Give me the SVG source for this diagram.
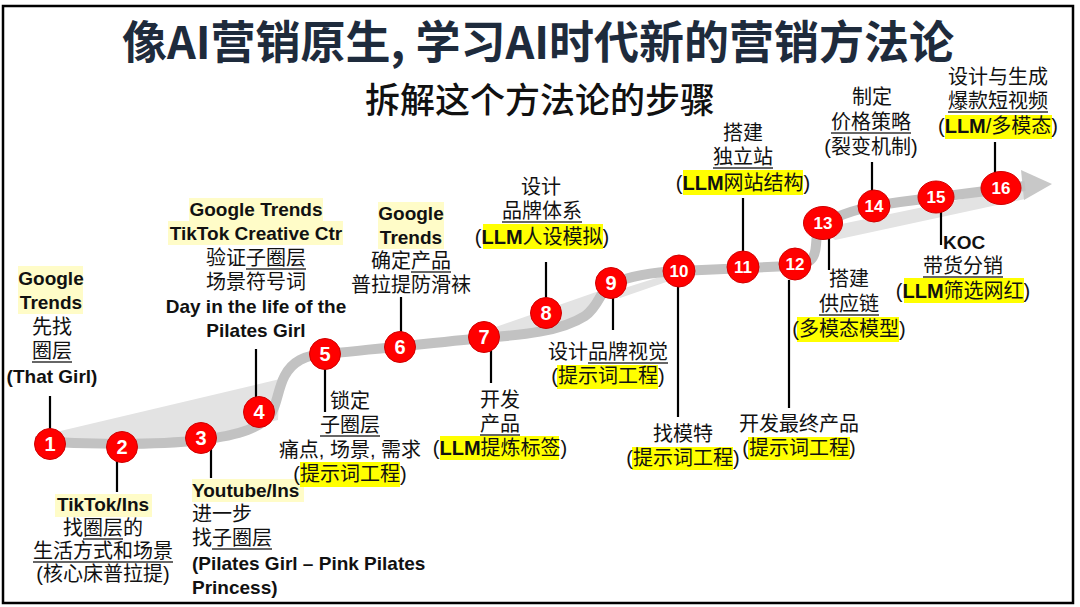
<svg xmlns="http://www.w3.org/2000/svg" width="1080" height="607" viewBox="0 0 1080 607">
<style>
text{font-family:"Liberation Sans","Noto Sans CJK SC",sans-serif;fill:#111;}
.cn{font-size:20px;text-anchor:middle;}
.en{font-size:19px;font-weight:bold;text-anchor:middle;}
.l{text-anchor:start;}
.b{font-weight:bold;}
.num{font-size:20px;font-weight:bold;fill:#fff;text-anchor:middle;}
.num2{font-size:17px;font-weight:bold;fill:#fff;text-anchor:middle;}
.hl{fill:#fffcc8;}
.hy{fill:#ffff00;}
.ul{stroke:#333;stroke-width:1.3;}
.lead{stroke:#000;stroke-width:2.2;}
.dot{fill:#ff0000;stroke:#d00000;stroke-width:1;}
</style>
<rect x="0" y="0" width="1080" height="607" fill="#fff"/>
<rect x="3" y="6" width="1070" height="597" fill="#fff" stroke="#000" stroke-width="2.5"/>

<text x="538" y="59" style="font-family:'Noto Sans CJK SC','Liberation Sans',sans-serif;font-size:45px;font-weight:bold;fill:#1e2b3c;text-anchor:middle">像AI营销原生, 学习AI时代新的营销方法论</text>
<text x="540" y="113" style="font-family:'Noto Sans CJK SC',sans-serif;font-size:35px;font-weight:500;text-anchor:middle;fill:#111">拆解这个方法论的步骤</text>

<g id="ribbon">
<path d="M35,437 L280,379 L278,420 L201,437 L122,444 L36,441 Z" fill="#e3e3e3"/>
<path d="M470,336 L602,290 L592,312 L540,330 Z" fill="#e3e3e3"/>
<path d="M612,292 L672,273 L672,280 L620,298 Z" fill="#e3e3e3"/>
<path d="M822,228 L1025,186 L1025,199 L835,240 Z" fill="#e3e3e3"/>
<path d="M1021,170 L1052,184 L1024,200 Z" fill="#c8c8c8"/>
<path d="M35,441 C80,444 150,446 201,440 C240,435 262,428 272,412 C280,398 278,372 300,360 C310,355 318,354 325,354 C370,350 440,342 484,338 C520,335 560,332 585,316 C600,305 600,290 611,284 C630,276 655,272 679,271 L790,266 C810,264 815,260 816,245 C817,230 818,226 826,222 C850,210 870,206 900,202 L1025,186" fill="none" stroke="#c2c2c2" stroke-width="10" stroke-linejoin="round"/>
</g>

<g id="connectors">
<line class="lead" x1="50" y1="396" x2="50" y2="430"/>
<line class="lead" x1="117" y1="460" x2="117" y2="492"/>
<line class="lead" x1="211" y1="446" x2="211" y2="478"/>
<line class="lead" x1="256" y1="349" x2="256" y2="398"/>
<line class="lead" x1="325" y1="368" x2="325" y2="412"/>
<line class="lead" x1="401" y1="297" x2="401" y2="332"/>
<line class="lead" x1="491" y1="350" x2="491" y2="383"/>
<line class="lead" x1="546" y1="262" x2="546" y2="298"/>
<line class="lead" x1="613" y1="297" x2="613" y2="330"/>
<line class="lead" x1="678" y1="286" x2="678" y2="417"/>
<line class="lead" x1="743" y1="198" x2="743" y2="252"/>
<line class="lead" x1="789" y1="280" x2="789" y2="408"/>
<line class="lead" x1="829" y1="238" x2="829" y2="270"/>
<line class="lead" x1="872" y1="162" x2="872" y2="192"/>
<line class="lead" x1="941" y1="212" x2="941" y2="245"/>
<line class="lead" x1="995" y1="142" x2="995" y2="173"/>
</g>

<g id="node1">
<circle class="dot" cx="50" cy="444" r="15.5"/><text class="num" x="50" y="451">1</text>
<rect class="hl" x="18" y="266" width="65" height="48"/>
<text class="en" x="51" y="285">Google</text>
<text class="en" x="51" y="309">Trends</text>
<text class="cn" x="52" y="334">先找</text>
<text class="cn" x="52" y="358">圈层</text><line class="ul" x1="32" y1="362" x2="72" y2="362"/>
<text class="en" x="52" y="383">(That Girl)</text>
</g>

<g id="node2">
<circle class="dot" cx="122" cy="447" r="15.5"/><text class="num" x="122" y="454">2</text>
<rect class="hl" x="55" y="494" width="97" height="23"/>
<text class="en" x="103" y="511">TikTok/Ins</text>
<text class="cn" x="103" y="535">找圈层的</text><line class="ul" x1="83" y1="539" x2="123" y2="539"/>
<text class="cn" x="103" y="558">生活方式和场景</text><line class="ul" x1="33" y1="562" x2="173" y2="562"/>
<text class="cn" x="103" y="581">(核心床普拉提)</text>
</g>

<g id="node3">
<circle class="dot" cx="201" cy="438" r="15.5"/><text class="num" x="201" y="445">3</text>
<rect class="hl" x="192" y="479" width="112" height="23"/>
<text class="en l" x="192" y="497">Youtube/Ins</text>
<text class="cn l" x="192" y="521">进一步</text>
<text class="cn l" x="192" y="545">找子圈层</text><line class="ul" x1="212" y1="549" x2="272" y2="549"/>
<text class="en l" x="192" y="570">(Pilates Girl – Pink Pilates</text>
<text class="en l" x="192" y="594">Princess)</text>
</g>

<g id="node4">
<circle class="dot" cx="259" cy="412" r="15.5"/><text class="num" x="259" y="419">4</text>
<rect class="hl" x="189" y="198" width="134" height="23"/>
<rect class="hl" x="168" y="221" width="175" height="24"/>
<text class="en" x="256" y="216">Google Trends</text>
<text class="en" x="256" y="240">TikTok Creative Ctr</text>
<text class="cn" x="256" y="265">验证子圈层</text><line class="ul" x1="246" y1="269" x2="306" y2="269"/>
<text class="cn" x="256" y="289">场景符号词</text>
<text class="en" x="256" y="313">Day in the life of the</text>
<text class="en" x="256" y="337">Pilates Girl</text>
</g>

<g id="node5">
<circle class="dot" cx="325" cy="354" r="15.5"/><text class="num" x="325" y="361">5</text>
<text class="cn" x="350" y="408">锁定</text>
<text class="cn" x="350" y="432">子圈层</text><line class="ul" x1="320" y1="436" x2="380" y2="436"/>
<text class="cn" x="350" y="457">痛点, 场景, 需求</text>
<rect class="hy" x="300" y="462" width="100" height="25"/>
<text class="cn" x="350" y="481">(提示词工程)</text>
</g>

<g id="node6">
<circle class="dot" cx="400" cy="347" r="15.5"/><text class="num" x="400" y="354">6</text>
<rect class="hl" x="378" y="202" width="66" height="47"/>
<text class="en" x="411" y="220">Google</text>
<text class="en" x="411" y="244">Trends</text>
<text class="cn" x="411" y="268">确定产品</text><line class="ul" x1="411" y1="272" x2="451" y2="272"/>
<text class="cn" x="411" y="292">普拉提防滑袜</text>
</g>

<g id="node7">
<circle class="dot" cx="484" cy="337" r="15.5"/><text class="num" x="484" y="344">7</text>
<text class="cn" x="500" y="407">开发</text>
<text class="cn" x="500" y="431">产品</text><line class="ul" x1="480" y1="435" x2="520" y2="435"/>
<rect class="hy" x="440" y="436" width="119" height="24"/>
<text class="cn" x="500" y="455">(<tspan class="b">LLM</tspan>提炼标签)</text>
</g>

<g id="node8">
<circle class="dot" cx="546" cy="313" r="15.5"/><text class="num" x="546" y="320">8</text>
<text class="cn" x="541" y="194">设计</text>
<text class="cn" x="542" y="218">品牌体系</text><line class="ul" x1="502" y1="222" x2="582" y2="222"/>
<rect class="hy" x="483" y="224" width="120" height="25"/>
<text class="cn" x="542" y="244">(<tspan class="b">LLM</tspan>人设模拟)</text>
</g>

<g id="node9">
<circle class="dot" cx="611" cy="283" r="15.5"/><text class="num" x="611" y="290">9</text>
<text class="cn" x="608" y="359">设计品牌视觉</text><line class="ul" x1="588" y1="363" x2="668" y2="363"/>
<rect class="hy" x="557" y="365" width="101" height="24"/>
<text class="cn" x="608" y="383">(提示词工程)</text>
</g>

<g id="node10">
<circle class="dot" cx="679" cy="271" r="16"/><text class="num2" x="679" y="277">10</text>
<text class="cn" x="683" y="441">找模特</text>
<rect class="hy" x="632" y="447" width="101" height="23"/>
<text class="cn" x="683" y="465">(提示词工程)</text>
</g>

<g id="node11">
<circle class="dot" cx="743" cy="267" r="16"/><text class="num2" x="743" y="273">11</text>
<text class="cn" x="743" y="140">搭建</text>
<text class="cn" x="743" y="164">独立站</text><line class="ul" x1="713" y1="168" x2="773" y2="168"/>
<rect class="hy" x="683" y="170" width="120" height="25"/>
<text class="cn" x="743" y="190">(<tspan class="b">LLM</tspan>网站结构)</text>
</g>

<g id="node12">
<circle class="dot" cx="795" cy="264" r="16"/><text class="num2" x="795" y="270">12</text>
<text class="cn" x="799" y="431">开发最终产品</text>
<rect class="hy" x="748" y="437" width="102" height="23"/>
<text class="cn" x="799" y="455">(提示词工程)</text>
</g>

<g id="node13">
<ellipse class="dot" cx="823" cy="223" rx="19.5" ry="16.5"/><text class="num2" x="823" y="229">13</text>
<text class="cn" x="849" y="286">搭建</text>
<text class="cn" x="849" y="311">供应链</text><line class="ul" x1="819" y1="315" x2="879" y2="315"/>
<rect class="hy" x="797" y="317" width="102" height="25"/>
<text class="cn" x="849" y="336">(多模态模型)</text>
</g>

<g id="node14">
<circle class="dot" cx="874" cy="206" r="16"/><text class="num2" x="874" y="212">14</text>
<text class="cn" x="872" y="104">制定</text>
<text class="cn" x="871" y="129">价格策略</text><line class="ul" x1="831" y1="133" x2="911" y2="133"/>
<text class="cn" x="871" y="154">(裂变机制)</text>
</g>

<g id="node15">
<ellipse class="dot" cx="936" cy="197" rx="18" ry="16"/><text class="num2" x="936" y="203">15</text>
<text class="en l" x="943" y="249">KOC</text>
<text class="cn" x="963" y="273">带货分销</text><line class="ul" x1="923" y1="277" x2="1003" y2="277"/>
<rect class="hy" x="904" y="278" width="120" height="25"/>
<text class="cn" x="963" y="298">(<tspan class="b">LLM</tspan>筛选网红)</text>
</g>

<g id="node16">
<ellipse class="dot" cx="1001" cy="188" rx="20" ry="16.5"/><text class="num2" x="1001" y="194">16</text>
<text class="cn" x="998" y="84">设计与生成</text>
<text class="cn" x="998" y="108">爆款短视频</text><line class="ul" x1="948" y1="112" x2="1048" y2="112"/>
<rect class="hy" x="945" y="115" width="107" height="24"/>
<text class="cn" x="998" y="133">(<tspan class="b">LLM</tspan>/多模态)</text>
</g>
</svg>
